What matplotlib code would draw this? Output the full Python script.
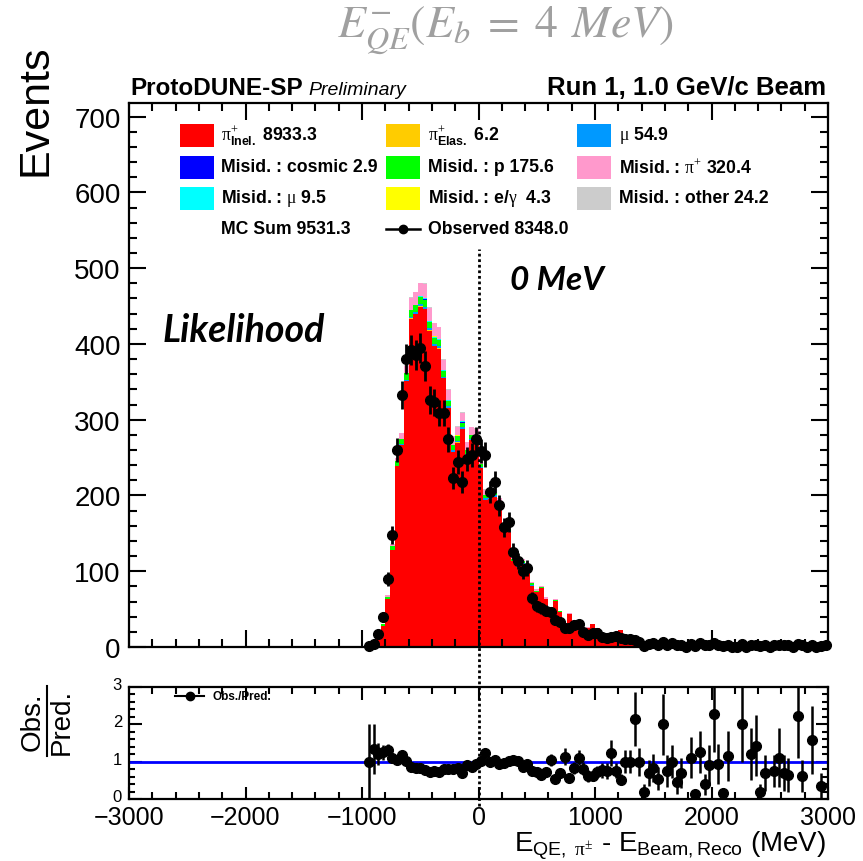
"""ProtoDUNE-SP E_QE - E_beam comparison plot (stack + data + ratio)."""

import numpy as np
import matplotlib
matplotlib.use("Agg")
import matplotlib.pyplot as plt
import matplotlib.transforms as mtransforms
from matplotlib.lines import Line2D
from matplotlib.patches import Rectangle
from matplotlib.ticker import MultipleLocator

plt.rcParams["font.family"] = ["Liberation Sans", "DejaVu Sans"]
plt.rcParams["mathtext.fontset"] = "custom"
plt.rcParams["mathtext.rm"] = "Liberation Serif"
plt.rcParams["mathtext.sf"] = "Liberation Sans"
plt.rcParams["mathtext.bf"] = "Liberation Sans:bold"
plt.rcParams["mathtext.it"] = "Liberation Sans:italic"

# 40 MeV bins, -1000 .. 3000 MeV (nothing is filled below -1000)
bin_edges = np.arange(-1000, 3001, 40)

observed = [
    0, 1, 4, 17, 39, 90, 148, 260, 333, 380,
    392, 385, 395, 371, 326, 323, 309, 309, 274, 223,
    244, 218, 248, 253, 274, 259, 254, 205, 218, 187,
    158, 165, 126, 114, 100, 104, 65, 54, 51, 48,
    46, 35, 33, 25, 25, 29, 30, 20, 16, 19,
    18, 13, 12, 13, 14, 12, 10, 11, 9, 7,
    1, 4, 5, 3, 6, 3, 5, 2, 3, 0,
    4, 1, 5, 2, 3, 5, 3, 1, 3, 0,
    0, 4, 0, 3, 3, 1, 2, 0, 3, 2,
    2, 2, 0, 4, 2, 0, 3, 0, 1, 2,
]

pi_inel = [
    0, 1, 3, 13, 28, 63, 128, 239, 266, 351,
    433, 439, 449, 446, 417, 397, 393, 355, 315, 258,
    269, 288, 253, 273, 272, 236, 194, 195, 198, 187,
    152, 152, 113, 106, 110, 104, 81, 72, 78, 63,
    42, 61, 46, 20, 43, 33, 26.5, 24, 25.5, 30.5,
    24.5, 16.5, 15.5, 10, 18, 22.5, 9.5, 10.5, 3.7, 6.5,
    4.5, 5.2, 5.5, 5, 2.5, 3.5, 4.5, 3.9, 3.8, 3,
    3.1, 7.5, 3.5, 4.5, 2.8, 1.7, 3.2, 6.5, 2.6, 3,
    2, 2, 2.5, 2.5, 2.1, 5, 2.9, 2, 4, 1.8,
    2.9, 3.1, 2, 1.8, 3.3, 1.5, 1.9, 1.5, 2.9, 0,
]
pi_elas = [0] * 10 + [1, 0, 1, 0, 1, 0, 1, 0, 1, 0, 1] + [0] * 79
mu = [0] * 8 + [2, 2, 2, 3, 3, 3, 3, 3, 3, 2,
                2, 2, 2, 2, 2, 2, 2, 2, 2, 2,
                2, 1, 1, 1, 1, 1, 1, 1, 1, 1] + [0] * 62
misid_cosmic = [0] * 11 + [1, 0, 1, 0, 0, 0, 0, 0, 0, 0, 1] + [0] * 78
misid_p = [
    0, 0, 0, 1, 2, 3, 5, 6, 7, 8,
    9, 9, 9, 9, 8, 8, 8, 7, 7, 6,
    6, 6, 5, 5, 5, 4, 4, 4, 3, 3,
    3, 3, 2, 2, 2, 2, 2, 1, 1, 1,
    1, 1, 1, 1, 1, 1,
] + [0] * 54
misid_pi = [
    0, 0, 0, 0, 1, 2, 3, 5, 7, 10,
    16, 16, 17, 18, 18, 17, 16, 13, 13, 11,
    11, 11, 10, 10, 9, 9, 7, 7, 6, 5,
    5, 4, 4, 3, 3, 3, 2, 2, 2, 2,
    1, 2, 1, 1, 1, 1,
] + [0.5] * 30 + [0] * 24
misid_mu = [0] * 12 + [1] * 10 + [0] * 78
misid_egamma = [0] * 13 + [1, 0, 1, 0, 1, 0, 0, 1] + [0] * 79
misid_other = [0] * 9 + [1] * 22 + [0] * 69

# stacking order, bottom to top
stack = [
    (pi_inel, "#FF0000"),
    (pi_elas, "#FFCC00"),
    (mu, "#0099FF"),
    (misid_p, "#00FF00"),
    (misid_cosmic, "#0000FF"),
    (misid_mu, "#00FFFF"),
    (misid_egamma, "#FFFF00"),
    (misid_pi, "#FF99CC"),
    (misid_other, "#CCCCCC"),
]

legend_rows = [
    [("#FF0000", r"$\mathrm{\pi}^{+}_{\mathbf{Inel.}}$ 8933.3"),
     ("#FFCC00", r"$\mathrm{\pi}^{+}_{\mathbf{Elas.}}$ 6.2"),
     ("#0099FF", r"$\mathrm{\mu}$ 54.9")],
    [("#0000FF", "Misid. : cosmic 2.9"),
     ("#00FF00", "Misid. : p 175.6"),
     ("#FF99CC", r"Misid. : $\mathrm{\pi}^{+}$ 320.4")],
    [("#00FFFF", r"Misid. : $\mathrm{\mu}$ 9.5"),
     ("#FFFF00", r"Misid. : e/$\mathrm{\gamma}$  4.3"),
     ("#CCCCCC", "Misid. : other 24.2")],
]

W_PX, H_PX = 863, 862


def fxy(px, py):
    return px / W_PX, 1 - py / H_PX


fig = plt.figure(figsize=(8.63, 8.62), dpi=100)
ax = fig.add_axes([129 / W_PX, 1 - 648 / H_PX, 699 / W_PX, 544 / H_PX])
axr = fig.add_axes([129 / W_PX, 1 - 800 / H_PX, 699 / W_PX, 112 / H_PX])

centers = bin_edges[:-1] + 20
obs = np.array(observed, dtype=float)

bottom = np.zeros(len(centers))
for vals, color in stack:
    top = bottom + np.array(vals, dtype=float)
    ax.stairs(top, bin_edges, baseline=bottom, fill=True, color=color, lw=0)
    bottom = top
mc_total = bottom

ax.errorbar(centers[1:], obs[1:], yerr=np.sqrt(obs[1:]), fmt="o", color="black",
            ms=7, elinewidth=2, capsize=0, clip_on=False, zorder=5)

ok = (mc_total > 0) & (obs > 0)
ratio = obs[ok] / mc_total[ok]
ratio_err = np.sqrt(obs[ok]) / mc_total[ok]
axr.axhline(1, color="#0000FF", lw=2, zorder=2)
axr.errorbar(centers[ok], ratio, yerr=ratio_err, fmt="o", color="black",
             ms=7, elinewidth=1.8, capsize=0, zorder=5)

ax.set_xlim(-3000, 3000)
ax.set_ylim(0, 718)
axr.set_xlim(-3000, 3000)
axr.set_ylim(0, 3)

for a in (ax, axr):
    a.xaxis.set_major_locator(MultipleLocator(1000))
    a.xaxis.set_minor_locator(MultipleLocator(200))
    a.tick_params(which="both", direction="in", top=True, right=True, width=1.5)
    for s in a.spines.values():
        s.set_linewidth(1.6)
ax.yaxis.set_major_locator(MultipleLocator(100))
ax.yaxis.set_minor_locator(MultipleLocator(20))
ax.tick_params(which="major", length=12)
ax.tick_params(which="minor", length=6)
ax.tick_params(axis="x", labelbottom=False)
ax.tick_params(axis="y", labelsize=20, pad=6)
axr.yaxis.set_major_locator(MultipleLocator(1))
axr.yaxis.set_minor_locator(MultipleLocator(0.2))
axr.tick_params(which="major", length=9)
axr.tick_params(which="minor", length=5)
axr.tick_params(axis="y", which="minor", length=4)
axr.tick_params(axis="y", labelsize=12, pad=5)
axr.tick_params(axis="x", labelsize=18, pad=4.5)
# ratio y labels sit a little high, as in the original
lift = mtransforms.ScaledTranslation(0, 4 / 100, fig.dpi_scale_trans)
for lab in axr.get_yticklabels():
    lab.set_transform(lab.get_transform() + lift)

# dotted line at 0 MeV running through both panels
tr = mtransforms.blended_transform_factory(ax.transData, fig.transFigure)
fig.add_artist(Line2D([0, 0], [1 - 807 / H_PX, 1 - 250 / H_PX], transform=tr,
                      color="black", lw=2, ls=(0, (1, 1))))

# legend
box_x = [180, 386, 577]
text_x = [221, 428, 619]
row_y = [136, 168, 199, 230]
for r, row in enumerate(legend_rows):
    for c, (color, label) in enumerate(row):
        x0, y0 = fxy(box_x[c], row_y[r] + 11.5)
        fig.add_artist(Rectangle((x0, y0), 34 / W_PX, 23 / H_PX, color=color,
                                 transform=fig.transFigure, lw=0))
        fig.text(*fxy(text_x[c], row_y[r]), label, fontsize=12.7,
                 fontweight="bold", va="center", ha="left")
fig.text(*fxy(text_x[0], row_y[3]), "MC Sum 9531.3", fontsize=12.7,
         fontweight="bold", va="center")
lx0, ly = fxy(386, row_y[3])
lx1, _ = fxy(420, row_y[3])
fig.add_artist(Line2D([lx0, lx1], [ly, ly], color="black", lw=1.8,
                      transform=fig.transFigure))
fig.add_artist(Line2D([(lx0 + lx1) / 2], [ly], color="black", marker="o", ms=6,
                      transform=fig.transFigure))
fig.text(*fxy(text_x[1], row_y[3]), "Observed 8348.0", fontsize=12.7,
         fontweight="bold", va="center")

# ratio legend
rx0, ry = fxy(175, 697)
rx1, _ = fxy(204, 697)
fig.add_artist(Line2D([rx0, rx1], [ry, ry], color="black", lw=1.5,
                      transform=fig.transFigure))
fig.add_artist(Line2D([(rx0 + rx1) / 2], [ry], color="black", marker="o", ms=6,
                      transform=fig.transFigure))
fig.text(*fxy(212, 697), "Obs./Pred.", fontsize=8.5, fontweight="bold", va="center")

# labels and annotations
fig.text(*fxy(35, 45), "Events", fontsize=31, rotation=90, ha="center", va="top")
fig.text(*fxy(33, 722), "Obs.", fontsize=20, rotation=90, ha="center", va="center")
fig.text(*fxy(62, 722), "Pred.", fontsize=20, rotation=90, ha="center", va="center")
fig.add_artist(Line2D([47 / W_PX, 47 / W_PX], [1 - 757 / H_PX, 1 - 687 / H_PX],
                      color="black", lw=1.5, transform=fig.transFigure))
fig.text(*fxy(826, 846),
         r"E$_{\mathsf{QE,}\ \mathrm{\pi^{\pm}}}$ - E$_{\mathsf{Beam,Reco}}$ (MeV)",
         fontsize=20, ha="right", va="center")

fig.text(*fxy(130, 95), "ProtoDUNE-SP", fontsize=17.5, fontweight="bold",
         va="baseline")
fig.text(*fxy(308, 95), "Preliminary", fontsize=14, fontstyle="italic",
         va="baseline")
fig.text(*fxy(826, 95), "Run 1, 1.0 GeV/c Beam", fontsize=18.5,
         fontweight="bold", ha="right", va="baseline")
fig.text(*fxy(505, 30), r"$E^{-}_{QE}(E_b\;=\;4\;\,MeV)$", fontsize=33,
         color="#A0A0A0", ha="center", va="center", math_fontfamily="stix")
fig.text(*fxy(510, 290), "0 MeV", fontsize=24, fontweight="bold",
         fontstyle="italic", family="Lato", va="baseline")
fig.text(*fxy(163, 342), "Likelihood", fontsize=27, fontweight="bold",
         fontstyle="italic", family="Lato", va="baseline")

fig.savefig("out.png", dpi=100)
